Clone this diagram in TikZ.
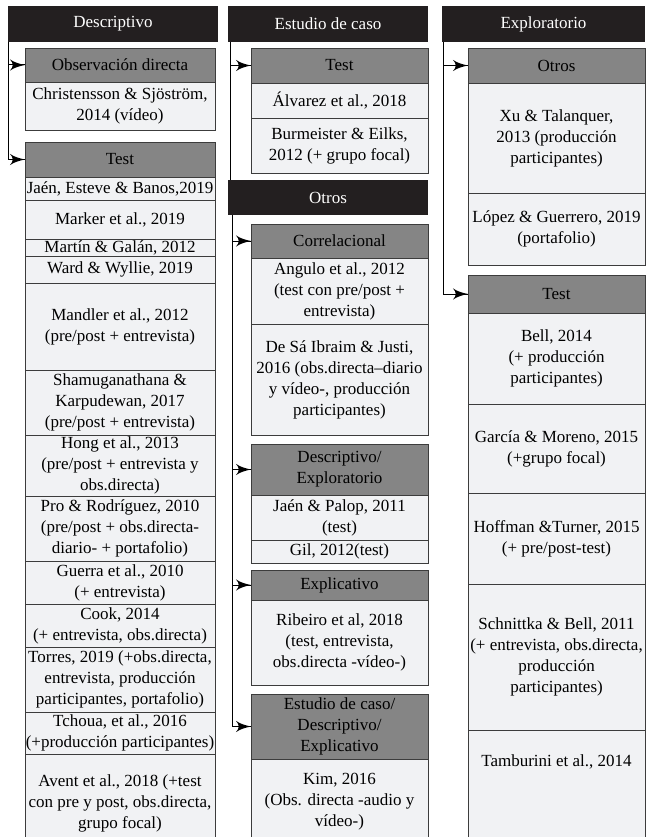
\documentclass[tikz,border=0pt]{standalone}
\usepackage{fontspec}
\setmainfont{Liberation Serif}
\usetikzlibrary{arrows}
\usetikzlibrary{decorations.markings}
\usetikzlibrary{positioning}
\definecolor{catblack}{HTML}{231F20}
\definecolor{subgray}{HTML}{858585}
\definecolor{cellgray}{HTML}{F1F2F4}
\definecolor{edgegray}{HTML}{3C3C3C}
\tikzset{pointer/.style = {line width=1pt,
                           decoration={markings,
                                       mark=at position 1 with {\arrow[scale=2.6]{latex'}}},
                           postaction={decorate}}}
\tikzset{cat/.style = {fill=catblack, text=white, anchor=north west,
                       minimum height=36, inner sep=0, outer sep=0}}
\tikzset{sub/.style = {draw=edgegray, fill=subgray, align=center,
                       anchor=north west, inner sep=0, outer sep=0}}
\tikzset{cell/.style = {draw=edgegray, fill=cellgray, align=center,
                        inner sep=0, outer sep=0}}
\tikzset{colA/.style = {minimum width=190}}
\tikzset{colB/.style = {minimum width=177}}

\begin{document}
\begin{tikzpicture}[x=1pt, y=-1pt, font=\fontsize{17}{21}\selectfont,
                    line width=0.8pt]
      \useasboundingbox (0,0) rectangle (647,837);
      % Descriptivo
      \node [cat, minimum width=210] (desc) at (8,6) {Descriptivo};
      \node [sub, colA, minimum height=34] (obs) at (25,48) {Observación directa};
      \node [cell, colA, minimum height=48, below=0pt of obs] (chris) {Christensson \& Sjöström,\\2014 (vídeo)};
      \node [sub, colA, minimum height=35] (testA) at (25,142) {Test};
      \node [cell, colA, minimum height=23, below=0pt of testA] (jaen) {Jaén, Esteve \& Banos,2019};
      \node [cell, colA, minimum height=39, below=0pt of jaen] (marker) {Marker et al., 2019};
      \node [cell, colA, minimum height=17, below=0pt of marker] (martin) {Martín \& Galán, 2012};
      \node [cell, colA, minimum height=27, below=0pt of martin] (ward) {Ward \& Wyllie, 2019};
      \node [cell, colA, minimum height=87, below=0pt of ward] (mandler) {Mandler et al., 2012\\(pre/post + entrevista)};
      \node [cell, colA, minimum height=65, below=0pt of mandler] (shamu) {Shamuganathana \&\\Karpudewan, 2017\\(pre/post + entrevista)};
      \node [cell, colA, minimum height=61, below=0pt of shamu] (hong) {Hong et al., 2013\\(pre/post + entrevista y\\obs.directa)};
      \node [cell, colA, minimum height=65, below=0pt of hong] (pro) {Pro \& Rodríguez, 2010\\(pre/post + obs.directa-\\diario- + portafolio)};
      \node [cell, colA, minimum height=43, below=0pt of pro] (guerra) {Guerra et al., 2010\\(+ entrevista)};
      \node [cell, colA, minimum height=43, below=0pt of guerra] (cook) {Cook, 2014\\(+ entrevista, obs.directa)};
      \node [cell, colA, minimum height=65, below=0pt of cook] (torres) {Torres, 2019 (+obs.directa,\\entrevista, producción\\participantes, portafolio)};
      \node [cell, colA, minimum height=42, below=0pt of torres] (tchoua) {Tchoua, et al., 2016\\(+producción participantes)};
      \node [cell, colA, minimum height=98, below=0pt of tchoua] (avent) {Avent et al., 2018 (+test\\con pre y post, obs.directa,\\grupo focal)};
      \draw [pointer] (desc.south west) |- (testA.west);
      \draw [pointer] (desc.south west |- obs.west) -- (obs.west);
      % Estudio de caso
      \node [cat, minimum width=200] (estc) at (228,6) {Estudio de caso};
      \node [sub, colB, minimum height=35] (testB) at (251,48) {Test};
      \node [cell, colB, minimum height=35, below=0pt of testB] (alvarez) {Álvarez et al., 2018};
      \node [cell, colB, minimum height=55, below=0pt of alvarez] (burm) {Burmeister \& Eilks,\\2012 (+ grupo focal)};
      % Otros
      \node [cat, minimum width=200, minimum height=35] (otros) at (228,180) {Otros};
      \node [sub, colB, minimum height=34] (correl) at (251,224) {Correlacional};
      \node [cell, colB, minimum height=66, below=0pt of correl] (angulo) {Angulo et al., 2012\\(test con pre/post +\\entrevista)};
      \node [cell, colB, minimum height=111, below=0pt of angulo] (desa) {De Sá Ibraim \& Justi,\\2016 (obs.directa–diario\\y vídeo-, producción\\participantes)};
      \node [sub, colB, minimum height=51] (descexp) at (251,444) {Descriptivo/\\Exploratorio};
      \node [cell, colB, minimum height=45, below=0pt of descexp] (palop) {Jaén \& Palop, 2011\\(test)};
      \node [cell, colB, minimum height=23, below=0pt of palop] (gil) {Gil, 2012(test)};
      \node [sub, colB, minimum height=30] (explic) at (251,570) {Explicativo};
      \node [cell, colB, minimum height=85, below=0pt of explic] (ribeiro) {Ribeiro et al, 2018\\(test, entrevista,\\obs.directa -vídeo-)};
      \node [sub, colB, minimum height=65] (mixto) at (251,694) {Estudio de caso/\\Descriptivo/\\Explicativo};
      \node [cell, colB, minimum height=86, below=0pt of mixto] (kim) {Kim, 2016\\(Obs. directa -audio y\\vídeo-)};
      \coordinate (estcL) at ([xshift=2pt]estc.south west);
      \coordinate (otrosL) at ([xshift=4pt]otros.south west);
      \draw [line width=1pt] (estcL) -- (estcL |- otros.north);
      \draw [pointer] (estcL |- testB.west) -- (testB.west);
      \draw [pointer] (otrosL) |- (mixto.west);
      \draw [pointer] (otrosL |- correl.west) -- (correl.west);
      \draw [pointer] (otrosL |- descexp.west) -- (descexp.west);
      \draw [pointer] (otrosL |- explic.west) -- (explic.west);
      % Exploratorio
      \node [cat, minimum width=203] (expl) at (442,6) {Exploratorio};
      \node [sub, colB, minimum height=35] (otrosC) at (468,48) {Otros};
      \node [cell, colB, minimum height=110, below=0pt of otrosC] (xu) {Xu \& Talanquer,\\2013 (producción\\participantes)};
      \node [cell, colB, minimum height=72, below=0pt of xu] (lopez) {López \& Guerrero, 2019\\(portafolio)};
      \node [sub, colB, minimum height=38] (testC) at (468,275) {Test};
      \node [cell, colB, minimum height=91, below=0pt of testC] (bell) {Bell, 2014\\(+ producción\\participantes)};
      \node [cell, colB, minimum height=89, below=0pt of bell] (garcia) {García \& Moreno, 2015\\(+grupo focal)};
      \node [cell, colB, minimum height=91, below=0pt of garcia] (hoffman) {Hoffman \&Turner, 2015\\(+ pre/post-test)};
      \node [cell, colB, minimum height=146, below=0pt of hoffman] (schnittka) {Schnittka \& Bell, 2011\\(+ entrevista, obs.directa,\\producción\\participantes)};
      \node [cell, colB, minimum height=120, text height=11pt, text depth=59pt,
             below=0pt of schnittka] (tamburini) {Tamburini et al., 2014};
      \coordinate (explL) at ([xshift=1pt]expl.south west);
      \draw [pointer] (explL) |- (testC.west);
      \draw [pointer] (explL |- otrosC.west) -- (otrosC.west);
\end{tikzpicture}
\end{document}
